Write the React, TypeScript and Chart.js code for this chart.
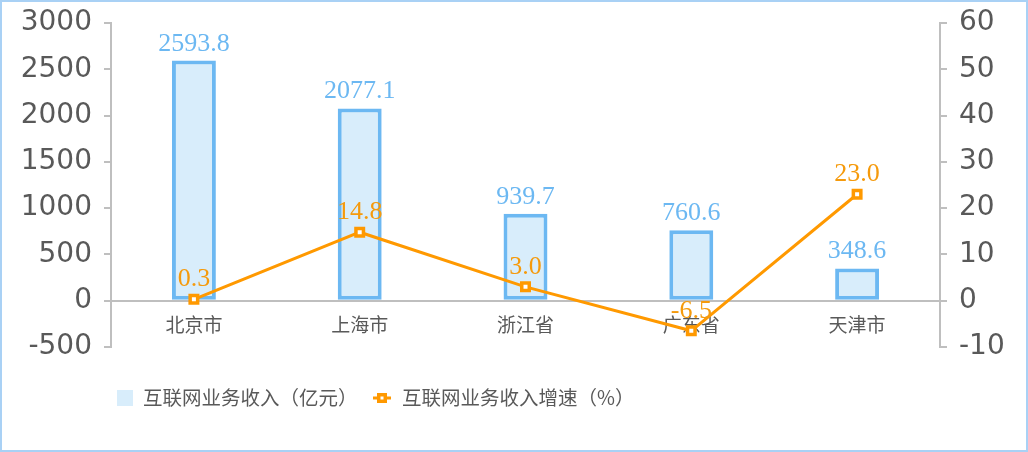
import React, { useEffect, useRef } from 'react';
import { Chart, registerables } from 'chart.js';

Chart.register(...registerables);

const categories = ['北京市', '上海市', '浙江省', '广东省', '天津市'];
const revenue = [2593.8, 2077.1, 939.7, 760.6, 348.6];
const growth = [0.3, 14.8, 3.0, -6.5, 23.0];
const revenueLabel = '互联网业务收入（亿元）';
const growthLabel = '互联网业务收入增速（%）';
const leftAxis = [-500, 3000, 500];
const rightAxis = [-10, 60, 10];

const BAR_FILL = '#D8EDFB';
const BAR_BORDER = '#6CB8F2';
const BAR_TEXT = '#6CB8F2';
const LINE_COLOR = '#FF9900';
const LINE_TEXT = '#F59A0C';
const AXIS_GRAY = '#BFBFBF';
const TEXT_GRAY = '#595959';
const CJK = '"Noto Sans CJK SC", sans-serif';

const labelsPlugin = {
  id: 'valueLabels',
  afterDatasetsDraw(chart: any) {
    const ctx = chart.ctx;
    ctx.save();
    ctx.font = '26px "Liberation Serif", serif';
    ctx.textAlign = 'center';
    ctx.textBaseline = 'alphabetic';
    chart.getDatasetMeta(0).data.forEach((el: any, i: number) => {
      ctx.fillStyle = BAR_TEXT;
      ctx.fillText(revenue[i].toFixed(1), el.x, el.y - 10);
    });
    chart.getDatasetMeta(1).data.forEach((el: any, i: number) => {
      ctx.fillStyle = LINE_TEXT;
      ctx.fillText(growth[i].toFixed(1), el.x, el.y - 13);
    });
    ctx.restore();
  },
};

const legendPlugin = {
  id: 'customLegend',
  afterDraw(chart: any) {
    const ctx = chart.ctx;
    const cy = 398;
    ctx.save();
    ctx.fillStyle = BAR_FILL;
    ctx.fillRect(117, cy - 8, 16, 16);
    ctx.font = `19.5px ${CJK}`;
    ctx.fillStyle = TEXT_GRAY;
    ctx.textBaseline = 'middle';
    ctx.textAlign = 'left';
    ctx.fillText(chart.data.datasets[0].label, 143, cy);
    ctx.strokeStyle = LINE_COLOR;
    ctx.lineWidth = 3;
    ctx.beginPath();
    ctx.moveTo(373, cy);
    ctx.lineTo(391, cy);
    ctx.stroke();
    ctx.fillStyle = LINE_COLOR;
    ctx.fillRect(377, cy - 5, 10, 10);
    ctx.fillStyle = '#ffffff';
    ctx.fillRect(380.5, cy - 1.5, 3, 3);
    ctx.fillStyle = TEXT_GRAY;
    ctx.fillText(chart.data.datasets[1].label, 402, cy);
    ctx.strokeStyle = '#A9D1F5';
    ctx.lineWidth = 2;
    ctx.strokeRect(1, 1, chart.width - 2, chart.height - 2);
    ctx.restore();
  },
};

const noOverhang = (w: number) => (s: any) => {
  s.width = w;
  s.paddingTop = 0;
  s.paddingBottom = 0;
};

export default function App() {
  const ref = useRef<HTMLCanvasElement>(null);

  useEffect(() => {
    document.body.style.margin = '0';
    const canvas = ref.current;
    if (!canvas) return;
    const chart = new Chart(canvas, {
      type: 'bar',
      data: {
        labels: categories,
        datasets: [
          {
            type: 'bar',
            label: revenueLabel,
            data: revenue,
            backgroundColor: BAR_FILL,
            borderColor: BAR_BORDER,
            borderWidth: 4,
            borderSkipped: false,
            barPercentage: 0.265,
            categoryPercentage: 1,
            yAxisID: 'y',
            order: 2,
          } as any,
          {
            type: 'line',
            label: growthLabel,
            data: growth,
            borderColor: LINE_COLOR,
            borderWidth: 3,
            pointStyle: 'rect',
            pointRadius: 5.3,
            pointBorderWidth: 3.5,
            pointBackgroundColor: '#ffffff',
            pointBorderColor: LINE_COLOR,
            tension: 0,
            yAxisID: 'y1',
            order: 1,
          } as any,
        ],
      },
      options: {
        responsive: false,
        animation: false,
        layout: { padding: { left: 0, right: 0, top: 23, bottom: 105 } },
        plugins: {
          legend: { display: false },
          tooltip: { enabled: false },
        },
        scales: {
          x: {
            position: { y: 0 } as any,
            offset: true,
            grid: { display: false, drawTicks: false },
            border: { display: true, color: AXIS_GRAY, width: 2 },
            ticks: {
              color: TEXT_GRAY,
              font: { family: CJK, size: 19 },
              padding: 13,
              maxRotation: 0,
            },
          },
          y: {
            position: 'left',
            min: leftAxis[0],
            max: leftAxis[1],
            afterFit: noOverhang(111),
            grid: { drawOnChartArea: false, drawTicks: true, tickLength: 7, color: AXIS_GRAY, lineWidth: 2 },
            border: { color: AXIS_GRAY, width: 2 },
            ticks: {
              stepSize: leftAxis[2],
              color: TEXT_GRAY,
              font: { family: '"DejaVu Sans", sans-serif', size: 28 },
              padding: 12,
              callback: (v: any) => String(v),
            },
          },
          y1: {
            position: 'right',
            min: rightAxis[0],
            max: rightAxis[1],
            afterFit: noOverhang(88),
            grid: { drawOnChartArea: false, drawTicks: true, tickLength: 7, color: AXIS_GRAY, lineWidth: 2 },
            border: { color: AXIS_GRAY, width: 2 },
            ticks: {
              stepSize: rightAxis[2],
              color: TEXT_GRAY,
              font: { family: '"DejaVu Sans", sans-serif', size: 28 },
              padding: 12,
              callback: (v: any) => String(v),
            },
          },
        },
      },
      plugins: [labelsPlugin, legendPlugin],
    });
    return () => chart.destroy();
  }, []);

  return (
    <div style={{ width: 1028, height: 452 }}>
      <canvas ref={ref} width={1028} height={452} style={{ display: 'block' }} />
    </div>
  );
}
